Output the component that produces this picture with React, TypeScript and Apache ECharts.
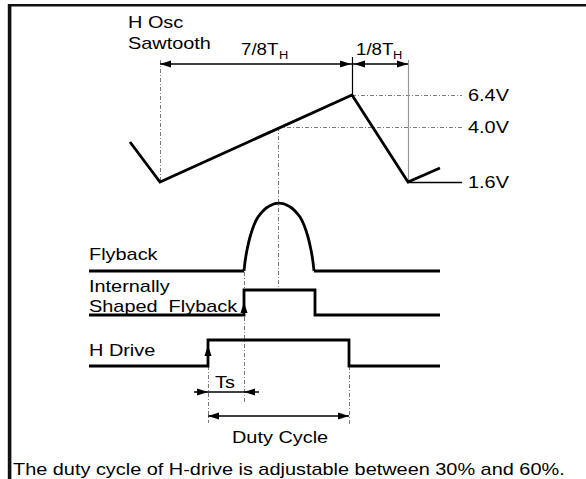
import React, { useEffect, useRef } from "react";
import * as echarts from "echarts";

// Diagram coordinates (x to the right, y downward, one unit per pixel of the 586x479 page)
const sawtooth = [[130, 142], [160, 182], [352, 95], [408, 182], [440, 168]];
const flybackLeft = [[89, 271], [244, 271]];
const flybackPulse = [
  [244, 271], [245, 262], [247, 250], [250, 237], [254, 225], [258, 217], [263, 211], [267, 207.5], [271, 205.2], [275, 203.7], [279, 203.2],
  [283, 203.7], [287, 205.2], [291, 207.5], [295, 211], [300, 217], [304, 225], [308, 237], [311, 250], [313, 262], [314, 271],
];
const flybackRight = [[314, 271], [440, 271]];
const shapedFlyback = [[89, 315], [244, 315], [244, 290], [315, 290], [315, 315], [440, 315]];
const hDrive = [[89, 366], [208, 366], [208, 340], [349, 340], [349, 366], [440, 366]];

// voltage levels of the sawtooth
const levelLabels = ["6.4V", "4.0V", "1.6V"];
const levelY = [95, 127, 182];
const levelStartX = [352, 278, 408];
const levelEndX = 462;

// dotted guide lines [x1, y1, x2, y2]
const guides = [
  [160, 60, 160, 182],
  [278, 127, 278, 290],
  [244, 272, 244, 403],
  [208, 366, 208, 423],
  [349, 366, 349, 424],
];

// dimension lines [x1, y1, x2, y2]
const dimensions = [
  [160, 64, 352, 64],
  [352, 64, 408, 64],
  [194, 392, 259, 392],
  [208, 416, 349, 416],
];

// arrow heads: tip x, tip y, direction x, direction y
const arrowX = [160, 351, 354, 408, 244, 208, 208, 244, 208, 349];
const arrowY = [64, 64, 64, 64, 302, 345, 392, 392, 416, 416];
const arrowDX = [-1, 1, -1, 1, 0, 0, 1, -1, -1, 1];
const arrowDY = [0, 0, 0, 0, -1, -1, 0, 0, 0, 0];

const FONT = '17px "Liberation Sans", Arial, sans-serif';
const FONT16 = '16px "Liberation Sans", Arial, sans-serif';
const SUB = '11px "Liberation Sans", Arial, sans-serif';
const SX = 1.17;

const texts: [string, number, number, string?][] = [
  ["H Osc", 128, 22],
  ["Sawtooth", 128, 43],
  ["7/8T", 241, 49, "16"],
  ["H", 279, 55, "sub"],
  ["1/8T", 356, 49, "16"],
  ["H", 393, 55, "sub"],
  ["Flyback", 89, 254],
  ["Internally", 89, 286],
  ["Shaped  Flyback", 89, 306],
  ["H Drive", 89, 350],
  ["Ts", 215, 382],
  ["Duty Cycle", 232, 437],
  ["The duty cycle of H-drive is adjustable between 30% and 60%.", 13, 469],
];

export default function App() {
  const ref = useRef<HTMLDivElement>(null);
  useEffect(() => {
    if (!ref.current) return;
    const chart = echarts.init(ref.current, undefined, { renderer: "svg" });
    const seg = (a: number[]) => ({ coords: [[a[0], a[1]], [a[2], a[3]]] });
    const thick = { color: "#000", width: 2.8, opacity: 1, cap: "butt", join: "miter" };
    const graphic: any[] = [
      { type: "line", shape: { x1: 8, y1: 5.3, x2: 586, y2: 5.3 }, style: { stroke: "#111", lineWidth: 2.6 }, z: 10 },
      { type: "line", shape: { x1: 9.6, y1: 4, x2: 9.6, y2: 479 }, style: { stroke: "#111", lineWidth: 3.6 }, z: 10 },
    ];
    texts.forEach(([t, x, y, kind]) => {
      graphic.push({
        type: "text",
        x,
        y,
        scaleX: SX,
        style: {
          text: t,
          font: kind === "sub" ? SUB : kind === "16" ? FONT16 : FONT,
          fill: "#000",
          align: "left",
          verticalAlign: "middle",
        },
        z: 10,
      });
    });
    levelLabels.forEach((t, i) => {
      graphic.push({
        type: "text",
        x: 468,
        y: levelY[i],
        scaleX: SX,
        style: { text: t, font: FONT, fill: "#000", align: "left", verticalAlign: "middle" },
        z: 10,
      });
    });

    const option: any = {
      animation: false,
      backgroundColor: "#fff",
      grid: { left: 0, right: 0, top: 0, bottom: 0 },
      xAxis: { type: "value", min: 0, max: 586, show: false },
      yAxis: { type: "value", min: 0, max: 479, inverse: true, show: false },
      graphic,
      series: [
        {
          type: "lines",
          coordinateSystem: "cartesian2d",
          silent: true,
          z: 1,
          lineStyle: { color: "#7a7a7a", width: 1, opacity: 1, type: [4, 2, 1, 2] },
          data: [
            ...guides.map(seg),
            seg([levelStartX[0], levelY[0], levelEndX, levelY[0]]),
            seg([levelStartX[1], levelY[1], levelEndX, levelY[1]]),
          ],
        },
        {
          type: "lines",
          coordinateSystem: "cartesian2d",
          silent: true,
          z: 1,
          data: [
            { coords: [[352, 57], [352, 95]], lineStyle: { color: "#000", width: 1.2, opacity: 1 } },
            { coords: [[408, 60], [408, 182]], lineStyle: { color: "#999", width: 1.2, opacity: 1 } },
            { coords: [[levelStartX[2], levelY[2]], [levelEndX, levelY[2]]], lineStyle: { color: "#000", width: 1.3, opacity: 1 } },
          ],
        },
        {
          type: "lines",
          coordinateSystem: "cartesian2d",
          silent: true,
          z: 2,
          lineStyle: { color: "#000", width: 1.5, opacity: 1 },
          data: dimensions.map(seg),
        },
        {
          type: "lines",
          coordinateSystem: "cartesian2d",
          polyline: true,
          silent: true,
          z: 3,
          lineStyle: thick,
          data: [
            { coords: sawtooth },
            { coords: flybackLeft },
            { coords: flybackRight },
            { coords: shapedFlyback },
            { coords: hDrive },
          ],
        },
        {
          type: "line",
          data: flybackPulse,
          smooth: 0.2,
          symbol: "none",
          silent: true,
          z: 3,
          lineStyle: thick,
        },
        {
          type: "custom",
          silent: true,
          z: 4,
          encode: { x: 0, y: 1 },
          data: arrowX.map((x, i) => [x, arrowY[i], arrowDX[i], arrowDY[i]]),
          renderItem: (params: any, api: any) => {
            const p = api.coord([api.value(0), api.value(1)]);
            const dx = api.value(2);
            const dy = api.value(3);
            const L = 11;
            const Wd = 3.5;
            const bx = p[0] - L * dx;
            const by = p[1] - L * dy;
            const nx = -dy;
            const ny = dx;
            return {
              type: "polygon",
              shape: { points: [[p[0], p[1]], [bx + Wd * nx, by + Wd * ny], [bx - Wd * nx, by - Wd * ny]] },
              style: { fill: "#000" },
            };
          },
        },
      ],
    };
    chart.setOption(option);
    return () => chart.dispose();
  }, []);
  return <div ref={ref} style={{ position: "absolute", left: 0, top: 0, width: 586, height: 479 }} />;
}
